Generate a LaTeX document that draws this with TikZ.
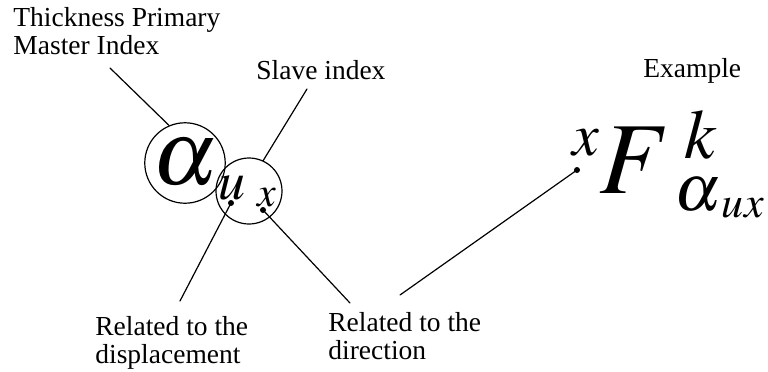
\documentclass[tikz,border=0pt]{standalone}
\usepackage{amsmath}
\usepackage{mathptmx}
\usepackage[no-math]{fontspec}
\setmainfont{Liberation Serif}
\usepackage{tikz}
\usetikzlibrary{positioning}

\begin{document}
\begin{tikzpicture}[x=0.5pt,y=-0.5pt,line cap=round,line join=round,
    every node/.style={inner sep=0pt},
    lbl/.style={font=\fontsize{13.75}{14}\selectfont,align=left,anchor=base west},
    sym/.style={anchor=base west,font=\fontsize{#1}{#1}\selectfont},
    ring/.style={draw,circle,line width=0.6pt},
    lead/.style={line width=0.6pt},
    dot/.style={fill,circle,minimum size=3pt}]
  \useasboundingbox (0,0) rectangle (768,371);

  % --- labels (base = last line) ---
  \node[lbl] (master) at (13,54) {Thickness Primary\\Master Index};
  \node[lbl] (slave) at (256,79) {Slave index};
  \node[lbl] (example) at (643,77) {Example};
  \node[lbl] (disp) at (95,363) {Related to the\\displacement};
  \node[lbl] (dir) at (328,359) {Related to the\\direction};

  % --- circled indices ---
  \node[ring,minimum size=31pt,font=\fontsize{46}{50}\selectfont] (alpha) at (185,163) {$\boldsymbol{\alpha}$};
  \node[ring,minimum size=33pt] (slaveC) at (249,191) {};
  \node[font=\fontsize{27}{30}\selectfont] (u) at (232,188) {$u$};
  \node[font=\fontsize{21}{24}\selectfont] (x) at (267,198) {$x$};

  % --- example symbol ---
  \node[sym=51] (F) at (599,193) {$F$};
  \node[sym=30] (Fx) at (572,155) {$x$};
  \node[sym=35] (Fk) at (684,158) {$k$};
  \node[sym=33] (Fa) at (674,210) {$\alpha$};
  \node[sym=22] (Fu) at (721,217) {$u$};
  \node[sym=22] (Fd) at (744,217) {$x$};

  % --- dots and leaders ---
  \node[dot] (udot) at (231,203) {};
  \node[dot] (xdot) at (263,210) {};
  \node[dot] (fdot) at (577,170) {};
  \coordinate (masterEnd) at (110,68);
  \coordinate (slaveEnd) at (307,89);
  \coordinate (dispEnd) at (180,301);
  \coordinate (dirEnd) at (350,303);
  \coordinate (exEnd) at (400,295);

  \draw[lead] (masterEnd) -- (alpha.113);
  \draw[lead] (slaveEnd) -- (slaveC.65);
  \draw[lead] (udot.center) -- (dispEnd);
  \draw[lead] (xdot.center) -- (dirEnd);
  \draw[lead] (fdot.center) -- (exEnd);
\end{tikzpicture}
\end{document}
